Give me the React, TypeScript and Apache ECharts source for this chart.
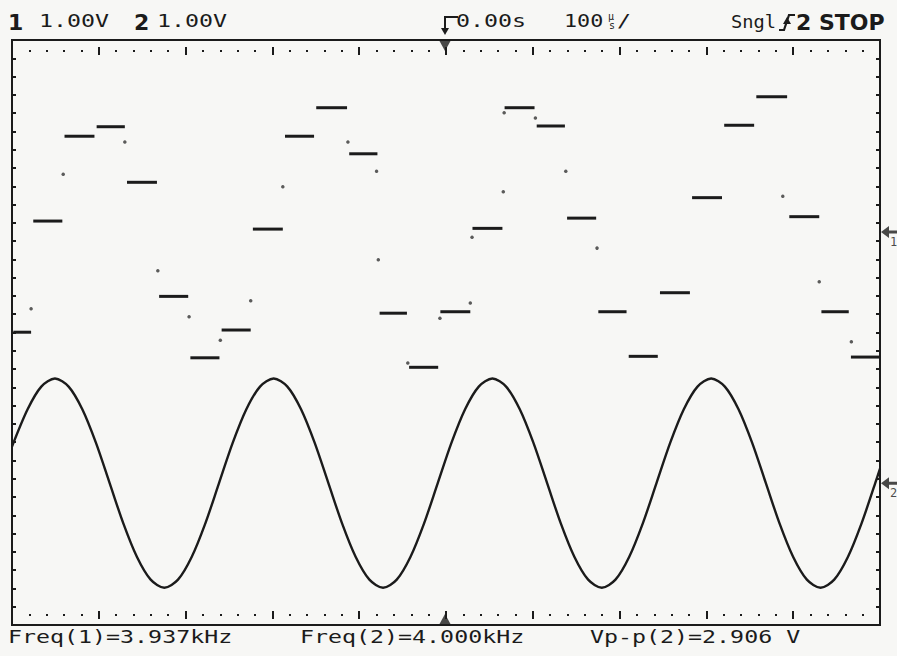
import React, { useEffect, useRef } from 'react';
import * as echarts from 'echarts';

// time base: microseconds, screen spans -500..500 (100 µs/div)
// vertical: divisions, -4..4 (1.00 V/div both channels)
const ch1Offset = 1.374; // ground marker of channel 1 (div)
const ch2Offset = -2.06; // ground marker of channel 2 (div)

// Channel 1: staircase (sample & hold) – start time of every step and its level (V)
const ch1StepStart = [-500, -477, -441, -404, -369, -332, -296, -260, -224, -187, -151, -113, -78, -44, -8, 29, 66, 103, 138, 174, 209, 245, 282, 319, 356, 394, 431, 465];
const ch1Levels = [-1.37, 0.15, 1.31, 1.44, 0.68, -0.88, -1.72, -1.34, 0.04, 1.31, 1.70, 1.07, -1.11, -1.85, -1.09, 0.05, 1.70, 1.45, 0.19, -1.09, -1.70, -0.83, 0.47, 1.46, 1.85, 0.21, -1.09, -1.71];

// Channel 1: isolated samples caught during transitions
const ch1GlitchT = [-478, -441, -370, -332, -296, -260, -225, -188, -113, -80, -78, -44, -7, 28, 30, 66, 67, 103, 138, 174, 388, 430, 467];
const ch1GlitchV = [-1.05, 0.79, 1.23, -0.53, -1.16, -1.48, -0.94, 0.62, 1.23, 0.83, -0.38, -1.79, -1.18, -0.97, -0.07, 0.55, 1.63, 1.56, 0.83, -0.22, 0.49, -0.68, -1.50];

// Channel 2: sine (time µs, volts)
const ch2T = [-500, -482, -466.25, -450.5, -434.75, -419, -403.25, -387.5, -371.75, -356, -340.25, -324.5, -308.75, -293, -277.25, -261.5, -245.75, -230, -214.25, -198.5, -182.75, -167, -151.25, -135.5, -119.75, -104, -88.25, -72.5, -56.75, -41, -25.25, -9.5, 6.25, 22, 37.75, 53.5, 69.25, 85, 100.75, 116.5, 132.25, 148, 163.75, 179.5, 195.25, 211, 226.75, 242.5, 258.25, 274, 289.75, 305.5, 321.25, 337, 352.75, 368.5, 384.25, 400, 415.75, 431.5, 447.25, 463, 478.75, 494.5, 500];
const ch2V = [0.5, 1.01, 1.32, 1.43, 1.32, 1.01, 0.55, 0, -0.55, -1.01, -1.32, -1.43, -1.32, -1.01, -0.55, 0, 0.55, 1.01, 1.32, 1.43, 1.32, 1.01, 0.55, 0, -0.55, -1.01, -1.32, -1.43, -1.32, -1.01, -0.55, 0, 0.55, 1.01, 1.32, 1.43, 1.32, 1.01, 0.55, 0, -0.55, -1.01, -1.32, -1.43, -1.32, -1.01, -0.55, 0, 0.55, 1.01, 1.32, 1.43, 1.32, 1.01, 0.55, 0, -0.55, -1.01, -1.32, -1.43, -1.32, -1.01, -0.55, 0, 0.2];

const triggerT = 0;

const headerTexts = ['1.00V', '1.00V', '0.00s', '100', 'Sngl', 'STOP'];
const footerTexts = ['Freq(1)=3.937kHz', 'Freq(2)=4.000kHz', 'Vp-p(2)=2.906 V'];

const INK = '#1b1b1b';
const MONO = '"DejaVu Sans Mono", monospace';
const SANS = '"DejaVu Sans", sans-serif';

function monoText(text: string, x: number, y: number, scaleX = 1.37, size = 17) {
  return {
    type: 'text',
    x,
    y,
    scaleX,
    silent: true,
    style: {
      text,
      fill: INK,
      fontSize: size,
      fontFamily: MONO,
      align: 'left',
      verticalAlign: 'middle',
      textAlign: 'left',
      textVerticalAlign: 'middle',
    },
  };
}

function boldText(text: string, x: number, y: number, size = 22) {
  return {
    type: 'text',
    x,
    y,
    silent: true,
    style: {
      text,
      fill: INK,
      fontSize: size,
      fontWeight: 'bold',
      fontFamily: SANS,
      align: 'left',
      verticalAlign: 'middle',
      textAlign: 'left',
      textVerticalAlign: 'middle',
    },
  };
}

function tickAxis(position: string, offset: number, interval: number, length: number, isX: boolean) {
  return {
    type: 'value',
    position,
    offset,
    min: isX ? -500 : -4,
    max: isX ? 500 : 4,
    interval,
    axisLine: { show: false, onZero: false },
    axisLabel: { show: false },
    splitLine: { show: false },
    axisTick: { show: true, inside: true, length, lineStyle: { color: INK, width: 2 } },
  };
}

export default function App() {
  const ref = useRef<HTMLDivElement>(null);

  useEffect(() => {
    document.body.style.margin = '0';
    const chart = echarts.init(ref.current as HTMLDivElement, undefined, { renderer: 'svg' });

    const stepData = ch1StepStart.map((s, i) => [
      s,
      i < ch1StepStart.length - 1 ? ch1StepStart[i + 1] : 500,
      ch1Levels[i] + ch1Offset,
    ]);
    const glitchData = ch1GlitchT.map((t, i) => [t, ch1GlitchV[i] + ch1Offset]);
    const sineData = ch2T.map((t, i) => [t, ch2V[i] + ch2Offset]);

    const option: any = {
      animation: false,
      backgroundColor: '#f7f7f5',
      grid: {
        left: 12,
        top: 40,
        width: 868,
        height: 585,
        show: true,
        borderColor: INK,
        borderWidth: 2,
        backgroundColor: 'transparent',
      },
      xAxis: [
        {
          type: 'value',
          min: -500,
          max: 500,
          interval: 100,
          axisLine: { show: false, onZero: false },
          axisTick: { show: false },
          axisLabel: { show: false },
          splitLine: { show: false },
        },
        tickAxis('top', -10, 20, 2, true),
        tickAxis('top', -7, 100, 8, true),
        tickAxis('bottom', -9, 20, 2, true),
        tickAxis('bottom', -6, 100, 8, true),
      ],
      yAxis: [
        {
          type: 'value',
          min: -4,
          max: 4,
          interval: 1,
          axisLine: { show: false, onZero: false },
          axisTick: { show: false },
          axisLabel: { show: false },
          splitLine: { show: false },
        },
        tickAxis('left', 0, 0.25, 4, false),
        tickAxis('right', 0, 0.25, 4, false),
      ],
      series: [
        {
          type: 'custom',
          name: 'ch1',
          xAxisIndex: 0,
          yAxisIndex: 0,
          data: stepData,
          encode: { x: [0, 1], y: 2 },
          renderItem: (params: any, api: any) => {
            const p1 = api.coord([api.value(0) + 1.5, api.value(2)]);
            const p2 = api.coord([api.value(1) - 1, api.value(2)]);
            return {
              type: 'line',
              shape: { x1: p1[0], y1: p1[1], x2: p2[0], y2: p2[1] },
              style: { stroke: INK, lineWidth: 3 },
            };
          },
        },
        {
          type: 'scatter',
          name: 'ch1 transitions',
          data: glitchData,
          symbol: 'circle',
          symbolSize: 3.5,
          itemStyle: { color: '#333' },
        },
        {
          type: 'line',
          name: 'ch2',
          data: sineData,
          smooth: 0.3,
          showSymbol: false,
          lineStyle: { color: INK, width: 2.4 },
        },
        {
          type: 'scatter',
          name: 'trigger',
          clip: false,
          symbol: 'triangle',
          symbolSize: [11, 10],
          itemStyle: { color: INK },
          data: [
            { value: [triggerT, 4], symbolRotate: 180, symbolOffset: [-1, 6] },
            { value: [triggerT, -4], symbolOffset: [-1, -6] },
          ],
        },
        {
          type: 'scatter',
          name: 'ground',
          clip: false,
          symbol: 'path://M0,6 L8,0 L8,4.5 L16,4.5 L16,7.5 L8,7.5 L8,12 Z',
          symbolSize: [16, 12],
          symbolOffset: [9, 0],
          itemStyle: { color: INK },
          label: {
            show: true,
            position: 'right',
            offset: [-12, 10],
            color: INK,
            fontSize: 12,
            fontFamily: MONO,
            formatter: (p: any) => p.data.name,
          },
          data: [
            { value: [500, ch1Offset], name: '1' },
            { value: [500, ch2Offset], name: '2' },
          ],
        },
      ],
      graphic: [
        boldText('1', 8, 22),
        monoText(headerTexts[0], 39, 21.5),
        boldText('2', 134, 22),
        monoText(headerTexts[1], 157, 21.5),
        // trigger position glyph
        {
          type: 'polyline',
          silent: true,
          shape: { points: [[458, 17], [445, 17], [445, 29]] },
          style: { stroke: INK, lineWidth: 2, fill: 'none' },
        },
        {
          type: 'polygon',
          silent: true,
          shape: { points: [[441, 28], [449, 28], [445, 35]] },
          style: { fill: INK },
        },
        monoText(headerTexts[2], 456, 21.5),
        monoText(headerTexts[3], 564, 21.5, 1.28),
        {
          type: 'text',
          x: 608,
          y: 16,
          silent: true,
          style: { text: 'µ', fill: INK, fontSize: 10, fontFamily: MONO, verticalAlign: 'middle', textVerticalAlign: 'middle' },
        },
        {
          type: 'text',
          x: 609,
          y: 25.5,
          silent: true,
          style: { text: 's', fill: INK, fontSize: 10, fontFamily: MONO, verticalAlign: 'middle', textVerticalAlign: 'middle' },
        },
        monoText('/', 617, 21.5),
        monoText(headerTexts[4], 731, 21.5, 1.1),
        // rising edge glyph
        {
          type: 'polyline',
          silent: true,
          shape: { points: [[779, 30], [784, 30], [789, 15], [795, 15]] },
          style: { stroke: INK, lineWidth: 2.2, fill: 'none' },
        },
        {
          type: 'polygon',
          silent: true,
          shape: { points: [[783, 24], [791, 24], [787, 17]] },
          style: { fill: INK },
        },
        boldText('2', 796, 22),
        boldText(headerTexts[5], 819, 22),
        monoText(footerTexts[0], 8, 637.5),
        monoText(footerTexts[1], 300, 637.5),
        monoText(footerTexts[2], 590, 637.5),
      ],
    };

    chart.setOption(option);
    return () => chart.dispose();
  }, []);

  return <div ref={ref} style={{ position: 'absolute', left: 0, top: 0, width: 897, height: 656 }} />;
}
